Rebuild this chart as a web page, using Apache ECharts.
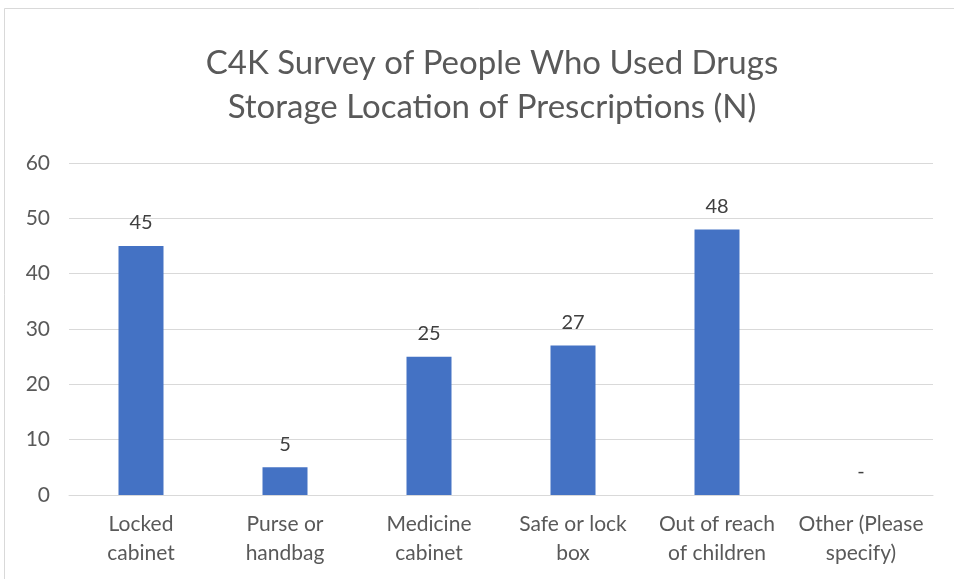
<!DOCTYPE html>
<html>
<head>
<meta charset="utf-8">
<script src="https://cdn.jsdelivr.net/npm/echarts@6/dist/echarts.min.js"></script>
<style>
  html, body { margin: 0; padding: 0; background: #ffffff; overflow: hidden; }
  #chart { position: absolute; left: 0; top: 0; width: 954px; height: 579px; }
</style>
</head>
<body>
<div id="chart"></div>
<script>
// Storage location of prescriptions, counts per category
const categories = ['Locked\ncabinet', 'Purse or\nhandbag', 'Medicine\ncabinet', 'Safe or lock\nbox', 'Out of reach\nof children', 'Other (Please\nspecify)'];
const counts = [45, 5, 25, 27, 48, 0];
const yTicks = { min: 0, max: 60, interval: 10 };

const FONT = 'Lato, "Open Sans", sans-serif';
const TEXT = '#595959';

const chart = echarts.init(document.getElementById('chart'));
chart.setOption({
  backgroundColor: '#ffffff',
  animation: false,
  graphic: [{
    type: 'rect',
    shape: { x: 4.5, y: 8.5, width: 1000, height: 1000 },
    style: { fill: 'none', stroke: '#d9d9d9', lineWidth: 1 },
    silent: true
  }],
  title: {
    text: 'C4K Survey of People Who Used Drugs\nStorage Location of Prescriptions (N)',
    left: 487,
    textAlign: 'center',
    top: 36,
    textStyle: { fontFamily: FONT, fontSize: 33, fontWeight: 'normal', color: TEXT, lineHeight: 44 }
  },
  grid: { left: 69, right: 21, top: 163, bottom: 84, containLabel: false },
  xAxis: {
    type: 'category',
    data: categories,
    axisLine: { show: true, lineStyle: { color: '#d9d9d9', width: 1 } },
    axisTick: { show: false },
    axisLabel: { fontFamily: FONT, fontSize: 21, color: TEXT, lineHeight: 29, margin: 15, interval: 0 }
  },
  yAxis: {
    type: 'value',
    min: yTicks.min,
    max: yTicks.max,
    interval: yTicks.interval,
    axisLine: { show: false },
    axisTick: { show: false },
    splitLine: { lineStyle: { color: '#d9d9d9', width: 1 } },
    axisLabel: { fontFamily: FONT, fontSize: 21, color: TEXT, margin: 19 }
  },
  series: [{
    type: 'bar',
    data: counts,
    barWidth: 45,
    itemStyle: { color: '#4472C4' },
    label: {
      show: true,
      position: 'top',
      distance: 13,
      fontFamily: FONT,
      fontSize: 20,
      color: '#404040',
      formatter: p => (p.value === 0 ? '-' : String(p.value))
    }
  }]
});
</script>
</body>
</html>
